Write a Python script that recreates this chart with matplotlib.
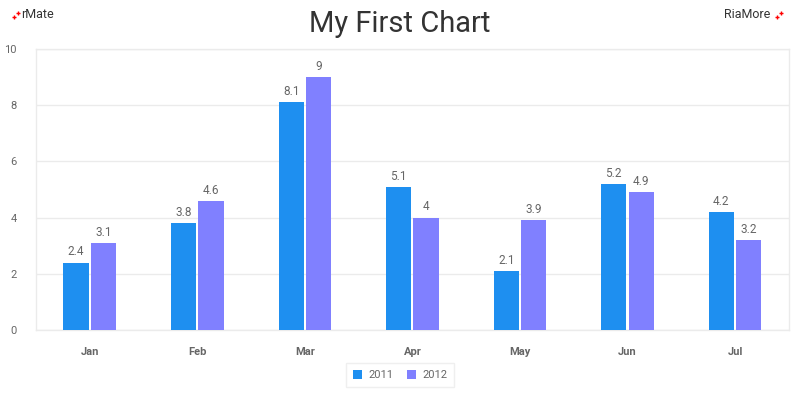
import numpy as np
import matplotlib
matplotlib.use("Agg")
import matplotlib.pyplot as plt
from matplotlib.lines import Line2D

# =========================
# DATA
# =========================
months = ["Jan", "Feb", "Mar", "Apr", "May", "Jun", "Jul"]
sales_2011 = [2.4, 3.8, 8.1, 5.1, 2.1, 5.2, 4.2]
sales_2012 = [3.1, 4.6, 9, 4, 3.9, 4.9, 3.2]

C2011 = "#1e8ff0"
C2012 = "#8080ff"
GRID = "#ebebeb"
TXT = "#666666"

plt.rcParams["font.family"] = ["Roboto", "DejaVu Sans"]

fig = plt.figure(figsize=(8, 4), dpi=100)
ax = fig.add_axes([0.045, 0.175, 0.941, 0.7025])

x = np.arange(len(months))
w = 0.235
gap = 0.01
b1 = ax.bar(x - w / 2 - gap, sales_2011, w, color=C2011, label="2011", zorder=3)
b2 = ax.bar(x + w / 2 + gap, sales_2012, w, color=C2012, label="2012", zorder=3)

for bars, vals in ((b1, sales_2011), (b2, sales_2012)):
    for r, v in zip(bars, vals):
        ax.annotate(f"{v:g}", (r.get_x() + r.get_width() / 2, v),
                    xytext=(0, 3), textcoords="offset points",
                    ha="center", va="bottom", fontsize=8.5, color=TXT)

ax.set_xlim(-0.5, len(months) - 0.5)
ax.set_ylim(0, 10)
ax.set_yticks(range(0, 11, 2))
ax.set_xticks(x)
ax.set_xticklabels(months, fontsize=8, color=TXT, fontweight="bold")
ax.tick_params(axis="y", labelsize=8, labelcolor=TXT, length=0, pad=14)
ax.tick_params(axis="x", length=0, pad=12)
ax.grid(axis="y", color=GRID, linewidth=1, zorder=0)
for s in ax.spines.values():
    s.set_color(GRID)
    s.set_linewidth(1)

fig.text(0.5, 0.94, "My First Chart", ha="center", va="center",
         fontsize=21, color="#333333")
fig.text(0.027, 0.963, "rMate", ha="left", va="center", fontsize=9, color="#333333")
fig.text(0.963, 0.963, "RiaMore", ha="right", va="center", fontsize=9, color="#333333")

# little red crosses beside the brand texts
for cx, cy, ms in [(0.0175, 0.957, 3.5), (0.0225, 0.967, 3),
                   (0.9715, 0.957, 3.5), (0.9765, 0.967, 3)]:
    fig.add_artist(Line2D([cx], [cy], marker="+", markersize=ms,
                          markeredgewidth=1, color="red",
                          transform=fig.transFigure))

leg = fig.legend(loc="center", bbox_to_anchor=(0.5, 0.062), ncol=2,
                 fontsize=8, frameon=True, fancybox=False, edgecolor=GRID,
                 handlelength=0.8, handleheight=0.8, columnspacing=1.2,
                 handletextpad=0.6, borderpad=0.6)
for t in leg.get_texts():
    t.set_color(TXT)

fig.savefig("out.png", dpi=100)
